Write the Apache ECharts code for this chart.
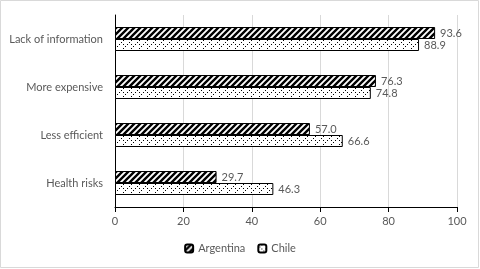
<!DOCTYPE html>
<html><head><meta charset="utf-8">
<script src="https://cdn.jsdelivr.net/npm/echarts@6/dist/echarts.min.js"></script>
<style>html,body{margin:0;padding:0;background:#fff}#c{width:480px;height:269px}</style>
</head><body><div id="c"></div>
<script>
var categories = ['Lack of information', 'More expensive', 'Less efficient', 'Health risks'];
var argentina = [93.6, 76.3, 57.0, 29.7];
var chile = [88.9, 74.8, 66.6, 46.3];
var xTicks = [0, 20, 40, 60, 80, 100];

function hatch() {
  var c = document.createElement('canvas'); c.width = 6; c.height = 6;
  var g = c.getContext('2d');
  g.fillStyle = '#fff'; g.fillRect(0, 0, 6, 6);
  g.strokeStyle = '#000'; g.lineWidth = 2.4;
  g.beginPath();
  g.moveTo(-1, 7); g.lineTo(7, -1);
  g.moveTo(-4, 4); g.lineTo(4, -4);
  g.moveTo(2, 10); g.lineTo(10, 2);
  g.stroke();
  return c;
}
function dots() {
  var c = document.createElement('canvas'); c.width = 8; c.height = 8;
  var g = c.getContext('2d');
  g.fillStyle = '#fff'; g.fillRect(0, 0, 8, 8);
  g.fillStyle = '#000';
  [[3,0],[1,2],[3,4],[7,4],[5,6]].forEach(function(p){ g.fillRect(p[0], p[1], 1, 1); });
  return c;
}
var hatchColor = {image: hatch(), repeat: 'repeat'};
var dotColor = {image: dots(), repeat: 'repeat'};
var font = 'Lato';
var chart = echarts.init(document.getElementById('c'), null, {renderer: 'canvas'});
chart.setOption({
  animation: false,
  backgroundColor: '#fff',
  graphic: [{type: 'rect', shape: {x: 0.5, y: 0.5, width: 478, height: 267}, style: {fill: 'none', stroke: '#d9d9d9', lineWidth: 1}}],
  grid: {left: 115, right: 23, top: 15, bottom: 62},
  legend: {
    bottom: 10, left: 'center', itemWidth: 8, itemHeight: 8, itemGap: 12,
    textStyle: {fontFamily: font, fontSize: 11, color: '#595959'},
    data: ['Argentina', 'Chile']
  },
  xAxis: {
    type: 'value', min: 0, max: 100, interval: 20,
    axisLine: {show: true, lineStyle: {color: '#000', width: 1}},
    axisTick: {show: true, length: 5, lineStyle: {color: '#000'}},
    splitLine: {show: true, lineStyle: {color: '#d9d9d9'}},
    axisLabel: {fontFamily: font, fontSize: 11, color: '#595959', margin: 9,
      formatter: function(v){ return xTicks.indexOf(v) >= 0 ? String(v) : ''; }}
  },
  yAxis: {
    type: 'category', data: categories, inverse: true,
    axisLine: {show: true, lineStyle: {color: '#000'}},
    axisTick: {show: false},
    axisLabel: {fontFamily: font, fontSize: 11, color: '#595959', margin: 12}
  },
  series: [
    {name: 'Argentina', type: 'bar', data: argentina, barGap: '0%', barCategoryGap: '50%',
      itemStyle: {color: hatchColor, borderColor: '#000', borderWidth: 1},
      label: {show: true, position: 'right', distance: 5, fontFamily: font, fontSize: 11, color: '#595959',
        formatter: function(p){ return p.value.toFixed(1); }}},
    {name: 'Chile', type: 'bar', data: chile, barGap: '0%', barCategoryGap: '50%',
      itemStyle: {color: dotColor, borderColor: '#000', borderWidth: 1},
      label: {show: true, position: 'right', distance: 5, fontFamily: font, fontSize: 11, color: '#595959',
        formatter: function(p){ return p.value.toFixed(1); }}}
  ]
});
</script></body></html>
